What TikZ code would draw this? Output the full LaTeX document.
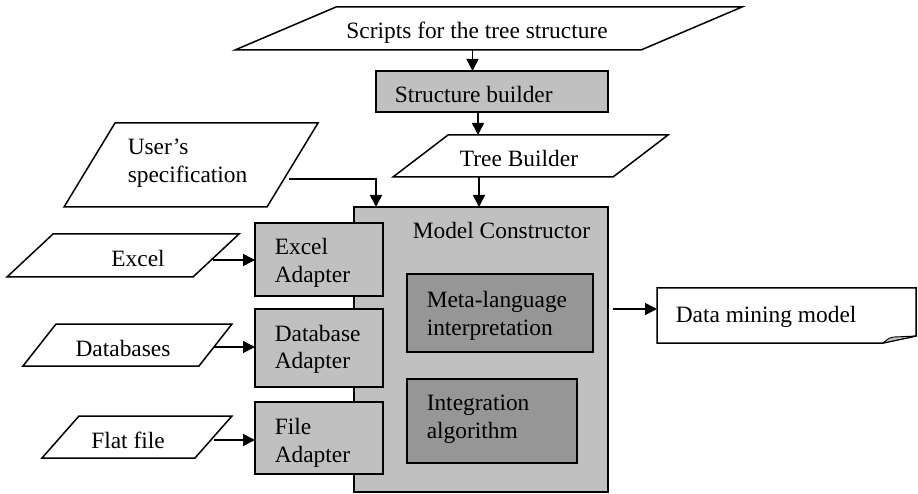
\documentclass[tikz,border=0pt]{standalone}
\usepackage{fontspec}
\setmainfont{Liberation Serif}
\usetikzlibrary{arrows.meta,calc}
\definecolor{lightbox}{RGB}{192,192,192}
\definecolor{darkbox}{RGB}{150,150,150}
\newcommand\paraframe[2]{%
  \draw[fill=white] (#1.south west) -- ($(#1.north west)+(#2,0)$) --
    (#1.north east) -- ($(#1.south east)-(#2,0)$) -- cycle;}
\begin{document}
\begin{tikzpicture}[x=1pt,y=-1pt,line width=1.5pt,
  slot/.style={rectangle,inner sep=0pt,outer sep=0pt},
  frame/.style={slot,draw,fill=lightbox},
  inner/.style={slot,draw,fill=darkbox},
  lbl/.style={inner sep=0pt,anchor=base west,font=\fontsize{23.4}{28}\selectfont},
  arr/.style={-{Triangle[length=12pt,width=12pt]}}]
\useasboundingbox (0,0) rectangle (918,494);

% input / output slots (parallelograms drawn over them)
\node[slot,minimum width=507,minimum height=43] (scripts) at (488.5,28.5) {};
\node[slot,minimum width=275,minimum height=42] (tree) at (530.5,156) {};
\node[slot,minimum width=254,minimum height=84] (user) at (191,165) {};
\node[slot,minimum width=232,minimum height=43] (excel) at (123,255.5) {};
\node[slot,minimum width=209,minimum height=42] (db) at (127.5,345) {};
\node[slot,minimum width=190,minimum height=42] (flat) at (137,437) {};
\paraframe{scripts}{101}
\paraframe{tree}{55}
\paraframe{user}{51}
\paraframe{excel}{46}
\paraframe{db}{33}
\paraframe{flat}{37}

% processing blocks
\node[frame,minimum width=232,minimum height=41] (sb) at (492,91.5) {};
\node[frame,minimum width=254,minimum height=285] (mc) at (481,349.5) {};
\node[inner,minimum width=186,minimum height=78] (meta) at (500,313) {};
\node[inner,minimum width=170,minimum height=84] (integ) at (492,421) {};
\node[frame,minimum width=128,minimum height=73] (exA) at (319,259.5) {};
\node[frame,minimum width=128,minimum height=78] (dbA) at (319,348) {};
\node[frame,minimum width=128,minimum height=72] (fA) at (319,438) {};

% output document with folded corner
\node[slot,minimum width=259,minimum height=55] (dm) at (786.5,315.5) {};
\draw[fill=white] (dm.north west) -- (dm.north east) -- ($(dm.south east)+(0,-7)$)
  -- ($(dm.south east)+(-33,0)$) -- (dm.south west) -- cycle;
\filldraw[fill=lightbox,line width=0.9pt] ($(dm.south east)+(-33,0)$)
  .. controls ($(dm.south east)+(-27,-5)$) .. ($(dm.south east)+(-22,-6)$)
  -- ($(dm.south east)+(0,-7)$) -- cycle;

% texts
\node[lbl,anchor=base] (tScripts) at ($(scripts.north west)+(242,32)$) {Scripts for the tree structure};
\node[lbl] (tSb) at ($(sb.north west)+(18,32)$) {Structure builder};
\node[lbl,anchor=base] (tTree) at ($(tree.north west)+(126,32)$) {Tree Builder};
\node[lbl] (tUser1) at ($(user.north west)+(63,32)$) {User’s};
\node[lbl] (tUser2) at ($(user.north west)+(63,60)$) {specification};
\node[lbl] (tMc) at ($(mc.north west)+(58,32)$) {Model Constructor};
\node[lbl] (tMeta1) at ($(meta.north west)+(19,33)$) {Meta-language};
\node[lbl] (tMeta2) at ($(meta.north west)+(19,61)$) {interpretation};
\node[lbl] (tInteg1) at ($(integ.north west)+(19,31)$) {Integration};
\node[lbl] (tInteg2) at ($(integ.north west)+(19,59)$) {algorithm};
\node[lbl] (tExA1) at ($(exA.north west)+(19,32)$) {Excel};
\node[lbl] (tExA2) at ($(exA.north west)+(19,60)$) {Adapter};
\node[lbl] (tDbA1) at ($(dbA.north west)+(19,32)$) {Database};
\node[lbl] (tDbA2) at ($(dbA.north west)+(19,59)$) {Adapter};
\node[lbl] (tFA1) at ($(fA.north west)+(19,32)$) {File};
\node[lbl] (tFA2) at ($(fA.north west)+(19,60)$) {Adapter};
\node[lbl,anchor=base] (tExcel) at ($(excel.north west)+(131,33)$) {Excel};
\node[lbl,anchor=base] (tDb) at ($(db.north west)+(100,32)$) {Databases};
\node[lbl,anchor=base] (tFlat) at ($(flat.north west)+(86,32)$) {Flat file};
\node[lbl] (tDm) at ($(dm.north west)+(18,34)$) {Data mining model};

% connectors
\coordinate (a1) at ($(scripts.south)+(-16,0)$);
\draw[arr] (a1) -- (a1 |- sb.north);
\coordinate (a2) at ($(sb.south)+(-14,0)$);
\draw[arr] (a2) -- (a2 |- tree.north);
\coordinate (a3) at ($(tree.south)+(-51.5,0)$);
\draw[arr] (a3) -- (a3 |- mc.north);
\coordinate (a4) at ($(user.south east)+(-29,-28)$);
\coordinate (a4e) at ($(mc.north west)+(22,0)$);
\draw[arr] (a4) -| (a4e);
\coordinate (a5) at ($(excel.east)+(-26,4.5)$);
\draw[arr] (a5) -- (a5 -| exA.west);
\coordinate (a6) at ($(db.east)+(-18,2)$);
\draw[arr] (a6) -- (a6 -| dbA.west);
\coordinate (a7) at ($(flat.east)+(-18,3)$);
\draw[arr] (a7) -- (a7 -| fA.west);
\coordinate (a8) at ($(mc.east)+(5,-40.5)$);
\draw[arr] (a8) -- (a8 -| dm.west);
\end{tikzpicture}
\end{document}
